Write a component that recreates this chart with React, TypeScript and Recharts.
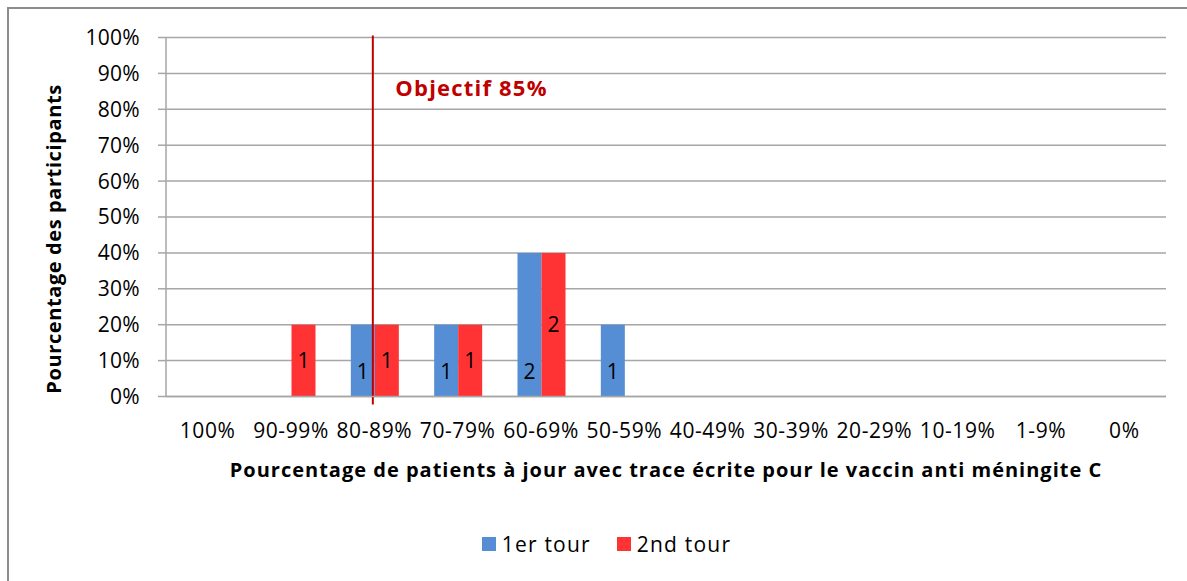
import React from "react";
import {
  BarChart,
  Bar,
  XAxis,
  YAxis,
  CartesianGrid,
  ReferenceLine,
  Legend,
  LabelList,
  Label,
} from "recharts";

const categories = [
  "100%",
  "90-99%",
  "80-89%",
  "70-79%",
  "60-69%",
  "50-59%",
  "40-49%",
  "30-39%",
  "20-29%",
  "10-19%",
  "1-9%",
  "0%",
];
// percentage of participants
const tour1 = [0, 0, 20, 20, 40, 20, 0, 0, 0, 0, 0, 0];
const tour2 = [0, 20, 20, 20, 40, 0, 0, 0, 0, 0, 0, 0];
// number of participants (bar labels)
const count1 = [0, 0, 1, 1, 2, 1, 0, 0, 0, 0, 0, 0];
const count2 = [0, 1, 1, 1, 2, 0, 0, 0, 0, 0, 0, 0];
const yTicks = [0, 10, 20, 30, 40, 50, 60, 70, 80, 90, 100];
const objectifCategory = "80-89%";

const data = categories.map((cat, i) => ({
  cat,
  tour1: tour1[i],
  tour2: tour2[i],
  n1: count1[i],
  n2: count2[i],
}));

const FONT = "'Open Sans', Lato, sans-serif";
const GRID = "#a6a6a6";
const BLUE = "#558ed5";
const RED = "#ff3333";
const DARKRED = "#c00000";

const hideZero = (v: any) => (v ? v : "");

const LegendContent = (props: any) => (
  <div
    style={{
      display: "flex",
      justifyContent: "center",
      fontFamily: FONT,
      fontSize: 21,
      letterSpacing: 1.2,
      color: "#000",
      paddingLeft: 38,
    }}
  >
    {(props.payload || []).map((p: any, i: number) => (
      <div key={i} style={{ display: "flex", alignItems: "center", marginLeft: i ? 26 : 0 }}>
        <span style={{ width: 14, height: 14, background: p.color, display: "inline-block", marginRight: 6 }} />
        <span>{p.value}</span>
      </div>
    ))}
  </div>
);

export default function App() {
  return (
    <div
      style={{
        position: "fixed",
        top: 7,
        left: 7,
        width: 1180,
        height: 574,
        borderTop: "2px solid #8c8c8c",
        borderLeft: "2px solid #8c8c8c",
        background: "#fff",
      }}
    >
      <BarChart
        width={1178}
        height={572}
        data={data}
        margin={{ top: 28.5, right: 21, left: 0, bottom: 21 }}
        barCategoryGap="21.8%"
        barGap={0}
      >
        <CartesianGrid vertical={false} stroke={GRID} strokeWidth={1.5} />
        <XAxis
          dataKey="cat"
          interval={0}
          height={133.5}
          tickLine={false}
          tickSize={0}
          tickMargin={27}
          axisLine={{ stroke: GRID, strokeWidth: 1.5 }}
          tick={{ fill: "#000", fontSize: 21, fontFamily: FONT, letterSpacing: 0.6 }}
        >
          <Label
            content={(p: any) => {
              const vb = p.viewBox;
              return (
                <text
                  x={vb.x + vb.width / 2}
                  y={vb.y + 80}
                  textAnchor="middle"
                  fontFamily={FONT}
                  fontWeight="bold"
                  fontSize={20}
                  letterSpacing={1}
                  fill="#000"
                >
                  Pourcentage de patients à jour avec trace écrite pour le vaccin anti méningite C
                </text>
              );
            }}
          />
        </XAxis>
        <YAxis
          width={157}
          domain={[0, 100]}
          ticks={yTicks}
          interval={0}
          tickFormatter={(v) => `${v}%`}
          tickSize={8}
          tickMargin={18}
          axisLine={{ stroke: GRID, strokeWidth: 1.5 }}
          tickLine={{ stroke: GRID, strokeWidth: 1.5 }}
          tick={{ fill: "#000", fontSize: 21, fontFamily: FONT, letterSpacing: 0.3 }}
        >
          <Label
            content={(p: any) => {
              const vb = p.viewBox;
              const cx = 44;
              const cy = vb.y + vb.height / 2 + 22;
              return (
                <text
                  x={cx}
                  y={cy}
                  transform={`rotate(-90, ${cx}, ${cy})`}
                  textAnchor="middle"
                  dominantBaseline="central"
                  fontFamily={FONT}
                  fontWeight="bold"
                  fontSize={20}
                  letterSpacing={0.6}
                  fill="#000"
                >
                  Pourcentage des participants
                </text>
              );
            }}
          />
        </YAxis>
        <Legend verticalAlign="bottom" height={30} content={<LegendContent />} />
        <Bar dataKey="tour1" name="1er tour" fill={BLUE} isAnimationActive={false}>
          <LabelList
            dataKey="n1"
            position="insideBottom"
            offset={18}
            formatter={hideZero}
            fill="#000"
            fontSize={21}
            fontFamily={FONT}
          />
        </Bar>
        <Bar dataKey="tour2" name="2nd tour" fill={RED} isAnimationActive={false}>
          <LabelList
            dataKey="n2"
            position="center"
            formatter={hideZero}
            fill="#000"
            fontSize={21}
            fontFamily={FONT}
          />
        </Bar>
        <ReferenceLine
          x={objectifCategory}
          stroke={DARKRED}
          strokeWidth={2}
          shape={(p: any) => (
            <line
              x1={p.x1 - 1.5}
              x2={p.x2 - 1.5}
              y1={Math.min(p.y1, p.y2) - 2}
              y2={Math.max(p.y1, p.y2) + 8}
              stroke={DARKRED}
              strokeWidth={2}
            />
          )}
          label={(p: any) => {
            const vb = p.viewBox;
            return (
              <text
                x={vb.x + 21}
                y={vb.y + 58}
                fontFamily={FONT}
                fontWeight="bold"
                fontSize={22}
                letterSpacing={1.2}
                fill={DARKRED}
              >
                Objectif 85%
              </text>
            );
          }}
        />
      </BarChart>
    </div>
  );
}
